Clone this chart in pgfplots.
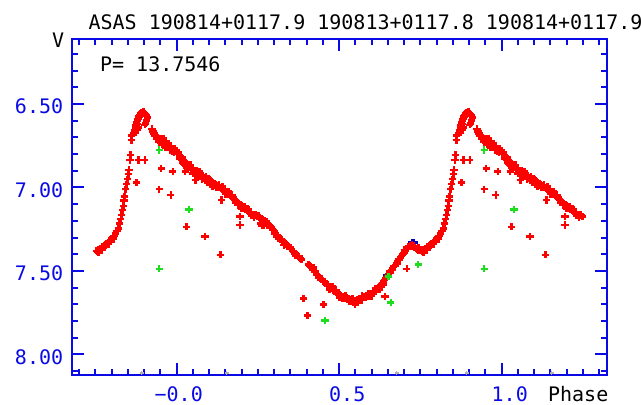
\documentclass[border=0pt]{standalone}
\usepackage{fontspec}
\usepackage{pgfplots}
\usepackage{pgfplotstable}
\pgfplotsset{compat=1.18}
\newfontfamily\chartfont{DejaVu Sans Mono}
\newcommand\cf{\chartfont\fontsize{10}{12}\selectfont}
\definecolor{axblue}{RGB}{10,10,230}
\definecolor{ptred}{RGB}{255,0,0}
\definecolor{ptgreen}{RGB}{30,220,30}
\definecolor{ptblue}{RGB}{0,0,200}

\pgfplotstableread{
ph m
0.000 6.780
0.002 6.800
0.005 6.790
0.008 6.810
0.010 6.825
0.012 6.815
0.014 6.835
0.016 6.820
0.018 6.850
0.020 6.855
0.020 6.840
0.024 6.845
0.028 6.860
0.030 6.880
0.032 6.870
0.036 6.865
0.040 6.880
0.042 6.865
0.044 6.890
0.048 6.885
0.050 6.915
0.052 6.900
0.056 6.905
0.060 6.900
0.060 6.925
0.064 6.915
0.066 6.935
0.068 6.920
0.070 6.905
0.072 6.925
0.076 6.935
0.078 6.950
0.080 6.930
0.084 6.945
0.088 6.950
0.090 6.935
0.092 6.945
0.094 6.970
0.096 6.960
0.100 6.965
0.100 6.950
0.104 6.960
0.108 6.975
0.110 6.995
0.112 6.980
0.116 6.975
0.120 6.985
0.122 7.000
0.124 6.990
0.128 6.995
0.130 6.985
0.132 7.000
0.136 7.005
0.140 7.010
0.140 6.995
0.144 7.015
0.148 7.025
0.150 7.040
0.152 7.025
0.156 7.035
0.160 7.040
0.160 7.025
0.164 7.045
0.168 7.055
0.170 7.045
0.172 7.060
0.176 7.070
0.180 7.075
0.180 7.090
0.184 7.085
0.188 7.090
0.190 7.105
0.192 7.095
0.196 7.105
0.200 7.110
0.200 7.125
0.204 7.115
0.208 7.125
0.210 7.115
0.212 7.130
0.216 7.140
0.220 7.145
0.222 7.130
0.224 7.150
0.228 7.155
0.230 7.170
0.232 7.160
0.236 7.165
0.238 7.180
0.240 7.170
0.244 7.165
0.248 7.175
0.252 7.170
0.256 7.180
0.258 7.215
0.260 7.185
0.262 7.195
0.262 7.230
0.266 7.190
0.268 7.225
0.270 7.200
0.272 7.210
0.276 7.205
0.278 7.230
0.280 7.215
0.284 7.225
0.288 7.235
0.292 7.240
0.296 7.255
0.300 7.265
0.300 7.280
0.304 7.275
0.308 7.285
0.312 7.290
0.314 7.305
0.316 7.300
0.320 7.310
0.324 7.315
0.328 7.325
0.330 7.345
0.332 7.330
0.336 7.340
0.340 7.350
0.344 7.355
0.348 7.365
0.350 7.360
0.352 7.370
0.356 7.380
0.360 7.385
0.364 7.395
0.366 7.410
0.368 7.400
0.372 7.410
0.376 7.415
0.380 7.425
0.384 7.430
0.405 7.460
0.410 7.470
0.414 7.480
0.418 7.490
0.420 7.480
0.422 7.495
0.426 7.505
0.430 7.520
0.434 7.525
0.436 7.540
0.438 7.535
0.442 7.545
0.446 7.550
0.450 7.560
0.454 7.565
0.458 7.575
0.462 7.580
0.466 7.585
0.470 7.595
0.470 7.610
0.474 7.600
0.478 7.605
0.480 7.595
0.482 7.615
0.486 7.620
0.490 7.630
0.490 7.615
0.494 7.635
0.498 7.640
0.500 7.660
0.502 7.645
0.506 7.650
0.510 7.655
0.510 7.665
0.514 7.660
0.518 7.665
0.520 7.650
0.522 7.660
0.526 7.670
0.530 7.665
0.530 7.680
0.534 7.675
0.538 7.680
0.540 7.665
0.542 7.690
0.546 7.685
0.549 7.700
0.552 7.680
0.556 7.675
0.556 7.690
0.560 7.670
0.564 7.665
0.568 7.675
0.570 7.650
0.572 7.660
0.576 7.655
0.580 7.660
0.584 7.650
0.588 7.645
0.590 7.635
0.592 7.650
0.596 7.640
0.600 7.635
0.600 7.650
0.604 7.630
0.608 7.625
0.612 7.620
0.612 7.605
0.616 7.610
0.620 7.600
0.624 7.595
0.624 7.610
0.628 7.585
0.632 7.575
0.636 7.565
0.636 7.580
0.640 7.555
0.644 7.545
0.648 7.530
0.652 7.520
0.656 7.505
0.660 7.495
0.664 7.485
0.664 7.495
0.668 7.475
0.672 7.465
0.676 7.455
0.680 7.445
0.680 7.455
0.684 7.430
0.688 7.420
0.692 7.410
0.696 7.400
0.700 7.390
0.700 7.375
0.704 7.380
0.708 7.370
0.712 7.365
0.712 7.355
0.716 7.355
0.720 7.350
0.724 7.345
0.728 7.350
0.732 7.360
0.736 7.365
0.740 7.370
0.744 7.375
0.744 7.360
0.748 7.370
0.752 7.380
0.756 7.385
0.760 7.375
0.760 7.390
0.764 7.370
0.768 7.365
0.770 7.375
0.772 7.355
0.776 7.350
0.780 7.345
0.784 7.335
0.788 7.330
0.790 7.340
0.792 7.320
0.796 7.315
0.800 7.305
0.804 7.300
0.806 7.310
0.808 7.290
0.812 7.275
0.816 7.260
0.820 7.245
0.824 7.215
0.828 7.190
0.831 7.165
0.834 7.135
0.836 7.110
0.838 7.080
0.840 7.055
0.843 7.010
0.846 6.980
0.848 6.950
0.851 6.920
0.853 6.895
0.856 6.835
0.858 6.805
0.860 6.716
0.862 6.690
0.866 6.675
0.870 6.660
0.872 6.640
0.874 6.670
0.875 6.625
0.877 6.610
0.878 6.655
0.879 6.600
0.880 6.620
0.881 6.590
0.883 6.640
0.884 6.575
0.886 6.565
0.888 6.555
0.891 6.550
0.894 6.552
0.897 6.548
0.900 6.555
0.902 6.625
0.903 6.560
0.905 6.615
0.906 6.570
0.908 6.600
0.909 6.580
0.924 6.650
0.927 6.665
0.930 6.675
0.932 6.690
0.935 6.685
0.938 6.710
0.940 6.700
0.944 6.720
0.945 6.705
0.948 6.715
0.950 6.710
0.953 6.720
0.955 6.745
0.956 6.725
0.959 6.715
0.960 6.705
0.962 6.730
0.965 6.740
0.966 6.760
0.968 6.745
0.970 6.735
0.973 6.750
0.974 6.735
0.976 6.755
0.979 6.760
0.980 6.775
0.982 6.755
0.985 6.765
0.986 6.785
0.988 6.770
0.991 6.775
0.992 6.790
0.994 6.770
0.997 6.780
0.877 6.971
0.882 6.835
0.902 6.835
0.952 6.885
0.946 7.010
0.988 6.905
0.982 7.045
0.026 6.905
0.057 6.955
0.031 7.236
0.087 7.295
0.135 7.404
0.138 7.075
0.195 7.175
0.195 7.225
0.391 7.664
0.402 7.769
0.451 7.700
0.641 7.654
0.708 7.488
}\reddata

\pgfplotstableread{
ph m
0.946 6.775
0.946 7.488
0.038 7.131
0.456 7.797
0.651 7.534
0.659 7.690
0.743 7.462
}\greendata

\pgfplotstableread{
ph m
0.724 7.328
0.730 7.330
0.647 7.524
}\bluedata

\pgfplotstableread{
ph m
0.892 8.112
0.154 8.112
0.677 8.112
}\graydata

\pgfplotsset{
  ptstyle/.style={only marks, mark=+, mark size=1.8pt, mark options={line width=1.3pt}},
}

\begin{document}
\begin{tikzpicture}
\path[use as bounding box] (0,0) rectangle (320.5pt,202pt);
\begin{axis}[
  name=ax,
  at={(36pt,14.5pt)}, anchor=south west,
  scale only axis, width=267.65pt, height=167.85pt,
  xmin=-0.3222, xmax=1.3249, ymin=6.1123, ymax=8.124, y dir=reverse,
  axis line style={axblue, line width=1pt},
  tick style={axblue, line width=1pt},
  tick align=inside,
  major tick length=6pt, minor tick length=3pt,
  xtick={0,0.5,1}, xticklabels={−0.0,\phantom{0}0.5,\phantom{0}1.0},
  minor xtick={-0.30,-0.25,-0.20,-0.15,-0.10,-0.05,0.05,0.10,0.15,0.20,0.25,0.30,0.35,0.40,0.45,0.55,0.60,0.65,0.70,0.75,0.80,0.85,0.90,0.95,1.05,1.10,1.15,1.20,1.25,1.30},
  ytick={6.5,7,7.5,8}, yticklabels={6.50,7.00,7.50,8.00},
  minor ytick={6.2,6.3,6.4,6.6,6.7,6.8,6.9,7.1,7.2,7.3,7.4,7.6,7.7,7.8,7.9,8.1},
  tick label style={font=\cf, text=axblue},
  xticklabel style={anchor=base, yshift=-13.35pt, xshift=1pt},
  yticklabel style={anchor=east, yshift=-1.25pt, xshift=-0.9pt},
]
\addplot[ptstyle, color=gray!60, mark size=1pt, mark options={line width=0.6pt}] table[x=ph,y=m] {\graydata};
\addplot[ptstyle, color=gray!60, mark size=1pt, mark options={line width=0.6pt}, restrict x to domain=-0.25:0] table[x expr=\thisrow{ph}-1,y=m] {\graydata};
\addplot[ptstyle, color=gray!60, mark size=1pt, mark options={line width=0.6pt}, restrict x to domain=1:1.25] table[x expr=\thisrow{ph}+1,y=m] {\graydata};

\addplot[ptstyle, color=ptblue] table[x=ph,y=m] {\bluedata};

\addplot[ptstyle, color=ptred] table[x=ph,y=m] {\reddata};
\addplot[ptstyle, color=ptred, restrict x to domain=-0.25:0] table[x expr=\thisrow{ph}-1,y=m] {\reddata};
\addplot[ptstyle, color=ptred, restrict x to domain=1:1.25] table[x expr=\thisrow{ph}+1,y=m] {\reddata};

\addplot[ptstyle, color=ptgreen] table[x=ph,y=m] {\greendata};
\addplot[ptstyle, color=ptgreen, restrict x to domain=-0.25:0] table[x expr=\thisrow{ph}-1,y=m] {\greendata};
\addplot[ptstyle, color=ptgreen, restrict x to domain=1:1.25] table[x expr=\thisrow{ph}+1,y=m] {\greendata};
\end{axis}
\node[anchor=base west, inner sep=0pt, font=\cf] at ([xshift=8.1pt,yshift=4.85pt]ax.north west) {ASAS 190814+0117.9 190813+0117.8 190814+0117.9};
\node[anchor=base west, inner sep=0pt, font=\cf] at ([xshift=13.85pt,yshift=-15.85pt]ax.north west) {P= 13.7546};
\node[anchor=base east, inner sep=0pt, font=\cf] at ([xshift=-3.7pt,yshift=-4pt]ax.north west) {V};
\node[anchor=base east, inner sep=0pt, font=\cf] at ([xshift=0.7pt,yshift=-13.25pt]ax.south east) {Phase};
\end{tikzpicture}
\end{document}
